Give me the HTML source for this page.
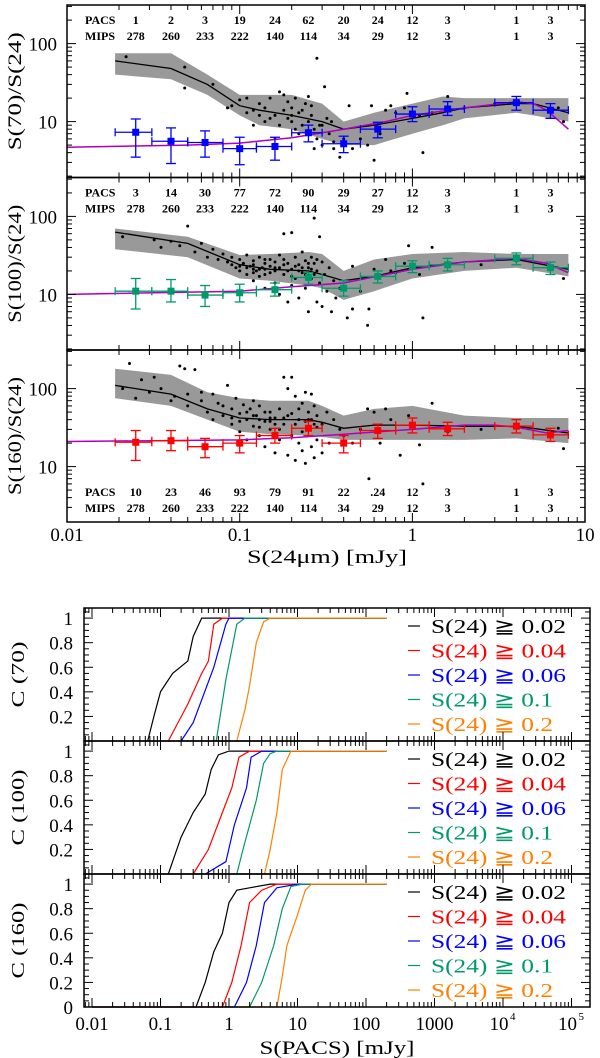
<!DOCTYPE html>
<html><head><meta charset="utf-8">
<style>
html,body{margin:0;padding:0;background:#fff;}
svg{display:block;}
text{font-family:"Liberation Serif","DejaVu Serif",serif;}
</style></head>
<body>
<svg id="fig" width="600" height="1058" viewBox="0 0 600 1058" xmlns="http://www.w3.org/2000/svg"></svg>
<script>
// ---------- TOP FIGURE DATA ----------
const binCenters=[0.025,0.04,0.063,0.1,0.16,0.25,0.4,0.63,1,1.6,4,6.3];
const pacsCounts=[["1","2","3","19","24","62","20","24","12","3","1","3"],["3","14","30","77","72","90","29","27","12","3","1","3"],["10","23","46","93","79","91","22",".24","12","3","1","3"]];
const mipsCounts=["278","260","233","222","140","114","34","29","12","3","1","3"];
const panelTitles=["S(70)/S(24)","S(100)/S(24)","S(160)/S(24)"];
const bandX1=[0.019,0.04,0.065,0.1,0.13,0.2,0.3,0.4,0.6,1,1.5,2,4,5,8];
const bandHi1=[75,75,40,22,22,22,17,10,13,17,21,20,20,20,20];
const bandLo1=[40,35,22,12,9,8,6,5,5,7,9,11,13,12,10];
const med1=[60,48,30,16,14,12,10,8,9,11,13,15,17,17,13];
const bandX2=[0.019,0.05,0.1,0.15,0.25,0.3,0.4,0.6,1,2,4,8];
const bandHi2=[70,55,32,33,35,33,20,28,33,35,33,33];
const bandLo2=[38,30,16,15,13,12,8.5,11,16,20,22,17];
const med2=[63,45,24,21,20,18,15,17,22,26,28,21];
const bandX3=[0.019,0.04,0.065,0.1,0.15,0.25,0.3,0.4,0.6,1,2,4,8];
const bandHi3=[180,150,90,75,70,70,60,45,55,60,45,42,42];
const bandLo3=[75,60,40,28,26,25,24,22,22,22,22,23,20];
const med3=[110,85,55,42,40,40,37,31,34,34,33,33,27];
const modX1=[0.01,0.05,0.1,0.2,0.4,0.7,1,2,4,5,6,8];
const modY1=[4.7,5.0,5.3,6.2,8,10,12,15,18,17,14,8];
const modX2=[0.01,0.1,0.2,0.4,1,2,4,6,8];
const modY2=[10,11,12.5,14,21,26,29,25,19];
const modX3=[0.01,0.1,0.2,0.4,1,2,3,4,6,8];
const modY3=[21,22,23.5,26,30,34,34,32,27,29];
const errY1=[7.3,5.6,5.4,4.5,4.8,7.2,5.2,8,12.5,14.5,17.5,14];
const errLo1=[3.5,2.9,3.5,2.8,3.2,5.5,4,6.2,10,12,14,11];
const errHi1=[10.8,8.3,7.6,6.3,6.3,9,6.5,9.8,15.5,18,21,17];
const errY2=[11,11,9.8,10.5,11.5,16.5,12,17,23,24,29,22];
const errLo2=[6.5,8,7,8,9.5,13.5,9.5,14,19,20,24,18];
const errHi2=[16,15.5,13,13.5,14,19,15,20,27,29,34,26];
const errY3=[20.5,21.5,18,20,25,31,20,29,34,30.5,33,25.5];
const errLo3=[12,16,13,15,20,25,15,23,27,25,27,21];
const errHi3=[29,29,23,25,31,38,25,35,42,37,40,31];
const binLo=[0.019,0.031,0.05,0.08,0.125,0.2,0.3,0.5,0.8,1.25,3,5];
const binHi=[0.031,0.05,0.08,0.125,0.2,0.3,0.5,0.8,1.25,2,5,8];
const dots1=[[0.022,68],[0.048,50],[0.048,27],[0.07,30],[0.085,15],[0.09,16],[0.1,19],[0.11,20],[0.12,14],[0.13,17],[0.14,15],[0.15,11],[0.15,20],[0.17,24],[0.18,22],[0.19,18],[0.2,15],[0.2,10],[0.21,20],[0.22,13],[0.23,9],[0.24,17],[0.25,21],[0.26,12],[0.27,8],[0.28,65],[0.28,6],[0.3,5],[0.31,28],[0.32,11],[0.33,7],[0.35,4.5],[0.38,3.5],[0.4,6],[0.43,16],[0.45,4.5],[0.5,6],[0.55,5],[0.58,16],[0.6,3.2],[0.65,7],[0.7,14],[0.75,16],[0.8,13],[0.9,15],[0.93,23],[1.1,12],[1.15,4],[1.3,13],[1.6,21],[2,15],[3,17],[7,15],[7.5,10],[0.16,6],[0.12,9],[0.22,7],[0.18,14],[0.2,12],[0.25,10],[0.16,12],[0.13,12],[0.29,9],[0.35,5.5],[0.27,4.5],[0.11,13],[0.14,10],[0.17,9],[0.19,11],[0.23,14],[0.26,16],[0.3,9],[0.34,10],[0.21,8]];
const dots2=[[0.021,55],[0.032,50],[0.035,40],[0.04,48],[0.045,42],[0.05,75],[0.055,35],[0.06,45],[0.065,30],[0.07,38],[0.075,28],[0.08,33],[0.085,26],[0.09,30],[0.095,22],[0.1,28],[0.1,20],[0.105,25],[0.11,32],[0.11,18],[0.115,23],[0.12,27],[0.12,15],[0.125,20],[0.13,30],[0.13,17],[0.135,22],[0.14,25],[0.14,12],[0.15,19],[0.15,28],[0.16,22],[0.16,14],[0.17,32],[0.17,10],[0.18,60],[0.18,18],[0.19,25],[0.19,8],[0.2,62],[0.2,21],[0.2,13],[0.21,30],[0.21,16],[0.22,24],[0.22,9],[0.23,35],[0.23,19],[0.24,27],[0.24,12],[0.25,22],[0.25,6],[0.26,30],[0.26,16],[0.27,95],[0.27,25],[0.28,20],[0.28,8],[0.29,55],[0.29,14],[0.3,26],[0.3,7],[0.31,18],[0.32,11],[0.33,22],[0.34,6],[0.35,15],[0.36,9],[0.38,12],[0.42,5],[0.45,6.5],[0.45,23],[0.5,11],[0.55,4],[0.56,6.5],[0.6,21],[0.65,17],[0.7,28],[0.75,20],[0.8,19],[0.9,25],[0.95,42],[1.1,18],[1.15,5],[1.3,40],[1.6,25],[2.5,24],[4,27],[7.5,16],[0.12,24],[0.14,18],[0.16,20],[0.18,24],[0.22,20],[0.24,18],[0.26,21],[0.15,23],[0.13,21],[0.11,22],[0.09,24],[0.1,23],[0.12,21],[0.14,21],[0.17,22],[0.19,20],[0.21,23],[0.23,22],[0.25,25],[0.27,18],[0.28,28],[0.2,17],[0.18,28],[0.16,26],[0.14,28],[0.12,19]];
const dots3=[[0.021,100],[0.023,210],[0.025,75],[0.027,130],[0.03,90],[0.032,140],[0.035,100],[0.04,70],[0.042,80],[0.045,195],[0.048,180],[0.05,60],[0.055,175],[0.06,70],[0.065,50],[0.07,85],[0.07,40],[0.075,65],[0.08,45],[0.085,110],[0.09,55],[0.09,35],[0.095,75],[0.1,48],[0.1,28],[0.105,62],[0.11,40],[0.11,22],[0.115,55],[0.12,33],[0.12,70],[0.125,45],[0.13,25],[0.13,60],[0.14,38],[0.14,18],[0.15,50],[0.15,30],[0.16,42],[0.16,15],[0.17,55],[0.17,22],[0.18,140],[0.18,35],[0.19,100],[0.19,14],[0.2,140],[0.2,48],[0.2,25],[0.21,80],[0.21,12],[0.22,40],[0.22,20],[0.23,65],[0.23,16],[0.24,90],[0.24,11],[0.25,50],[0.25,30],[0.26,85],[0.26,18],[0.27,60],[0.27,13],[0.28,45],[0.28,22],[0.3,35],[0.3,15],[0.32,50],[0.33,20],[0.35,40],[0.38,30],[0.4,25],[0.45,20],[0.5,30],[0.55,55],[0.56,7],[0.6,50],[0.65,20],[0.7,55],[0.75,40],[0.85,14],[0.95,45],[1.1,19],[1.15,6],[1.3,65],[1.6,28],[2.5,30],[7.5,17],[7,31],[0.12,45],[0.14,50],[0.16,35],[0.18,42],[0.22,55],[0.24,38],[0.26,40],[0.28,32],[0.15,38],[0.13,40],[0.1,38],[0.11,50],[0.13,32],[0.15,42],[0.17,30],[0.19,45],[0.21,35],[0.23,28],[0.25,40],[0.27,35],[0.09,42],[0.08,60],[0.06,90],[0.05,85]];

// ---------- BOTTOM FIGURE DATA ----------
const cdfLabels=["S(24)  \u2267  0.02","S(24)  \u2267  0.04","S(24)  \u2267  0.06","S(24)  \u2267  0.1","S(24)  \u2267  0.2"];
const cdfColors=["#000000","#ff0000","#0000ff","#009a6a","#ff8000"];
const cdfYTitles=["C (70)","C (100)","C (160)"];
const cdf70X=[[0.065,0.08,0.1,0.15,0.25,0.3,0.4,200],[0.13,0.25,0.4,0.5,0.6,0.8,200],[0.2,0.3,0.6,0.9,1,200],[0.65,0.9,1.3,1.7,200],[1.3,1.7,2.0,2.5,3.2,4,200]];
const cdf70Y=[[0,0.2,0.4,0.55,0.65,0.85,1,1],[0,0.3,0.55,0.65,0.95,1,1],[0,0.15,0.6,0.95,1,1],[0,0.5,0.95,1,1],[0,0.25,0.45,0.8,0.97,1,1]];
const cdf100X=[[0.13,0.2,0.3,0.45,0.55,0.7,1,200],[0.3,0.5,0.8,1.1,1.4,2,200],[0.45,0.9,1.2,1.8,2.1,3,200],[1.3,1.6,2.5,3.2,4,5,200],[3.3,4,5,6,8,200]];
const cdf100Y=[[0,0.3,0.5,0.65,0.85,0.97,1,1],[0,0.2,0.5,0.7,0.95,1,1],[0,0.1,0.4,0.7,0.95,1,1],[0,0.2,0.6,0.9,0.98,1,1],[0,0.2,0.5,0.85,1,1]];
const cdf160X=[[0.01,0.33,0.45,0.6,0.8,1.0,1.3,2,4,200],[0.01,0.8,1.1,1.5,2,3,5,200],[0.01,1.2,1.8,2.5,3.3,5,10,200],[0.01,2,3,4.5,6,8,12,200],[0.01,5,6,7,10,13,16,200]];
const cdf160Y=[[0,0,0.2,0.45,0.6,0.85,0.95,0.97,1,1],[0,0,0.2,0.5,0.85,0.95,1,1],[0,0,0.2,0.5,0.85,0.97,1,1],[0,0,0.2,0.5,0.8,0.98,1,1],[0,0,0.25,0.5,0.75,0.95,1,1]];

// ---------- helpers ----------
const NS="http://www.w3.org/2000/svg";
const svg=document.getElementById('fig');
function mk(tag,attrs,parent){const e=document.createElementNS(NS,tag);for(const k in attrs)e.setAttribute(k,attrs[k]);(parent||svg).appendChild(e);return e;}
const L=Math.log10;
const TX0=67,TX1=585,TXD=172.7;
function X1(v){return TX0+TXD*(L(v)-L(0.01));}
const y100s=[43.6,216.4,388.6], pTop=[5,177.5,350], pBot=[177.5,350,522];
function Y1(p,v){return y100s[p]+78*(2-L(v));}
const BX0=84,BX1=590;
function XB(v){return 229+68.5*L(v);}
const bBot=[741,874,1007], bTop=[608,741,874];
function YB(p,c){return bBot[p]-122.9*c;}

const bandsX=[bandX1,bandX2,bandX3],bandsHi=[bandHi1,bandHi2,bandHi3],bandsLo=[bandLo1,bandLo2,bandLo3],meds=[med1,med2,med3];
const modsX=[modX1,modX2,modX3],modsY=[modY1,modY2,modY3];
const errYs=[errY1,errY2,errY3],errLos=[errLo1,errLo2,errLo3],errHis=[errHi1,errHi2,errHi3];
const dotsAll=[dots1,dots2,dots3];
const errColors=["#0000ff","#009a6a","#ff0000"];
const seriesNames=["70","100","160"];

for(let p=0;p<3;p++){
  const g=mk('g',{});
  
  
  const clip=mk('clipPath',{id:'c'+p},g);
  mk('rect',{x:TX0,y:pTop[p],width:TX1-TX0,height:pBot[p]-pTop[p]},clip);
  const pg=mk('g',{'clip-path':'url(#c'+p+')'},g);
  const bx=bandsX[p],bh=bandsHi[p],bl=bandsLo[p];
  let d='';
  for(let i=0;i<bx.length;i++)d+=(i?'L':'M')+X1(bx[i]).toFixed(1)+','+Y1(p,bh[i]).toFixed(1);
  for(let i=bx.length-1;i>=0;i--)d+='L'+X1(bx[i]).toFixed(1)+','+Y1(p,bl[i]).toFixed(1);
  const band=mk('path',{d:d+'Z',fill:'#999999'},pg);
  
  
  const dg=mk('g',{fill:'#000'},pg);
  
  
  for(const pt of dotsAll[p]) mk('circle',{cx:X1(pt[0]).toFixed(1),cy:Y1(p,pt[1]).toFixed(1),r:1.5},dg);
  let md='';for(let i=0;i<bx.length;i++)md+=(i?'L':'M')+X1(bx[i]).toFixed(1)+','+Y1(p,meds[p][i]).toFixed(1);
  const ml=mk('path',{d:md,fill:'none',stroke:'#000','stroke-width':1.3},pg);
  
  
  let mdd='';for(let i=0;i<modsX[p].length;i++)mdd+=(i?'L':'M')+X1(modsX[p][i]).toFixed(1)+','+Y1(p,modsY[p][i]).toFixed(1);
  const mod=mk('path',{d:mdd,fill:'none',stroke:'#b000c0','stroke-width':1.5},pg);
  
  
  const eg=mk('g',{stroke:errColors[p],'stroke-width':1.3,fill:errColors[p]},pg);
  
  
  for(let i=0;i<binCenters.length;i++){
    const cx=X1(binCenters[i]),cy=Y1(p,errYs[p][i]);
    const x0=X1(binLo[i]),x1=X1(binHi[i]),y0=Y1(p,errLos[p][i]),y1=Y1(p,errHis[p][i]);
    mk('line',{x1:x0,y1:cy,x2:x1,y2:cy},eg);
    mk('line',{x1:x0,y1:cy-4,x2:x0,y2:cy+4},eg);
    mk('line',{x1:x1,y1:cy-4,x2:x1,y2:cy+4},eg);
    mk('line',{x1:cx,y1:y0,x2:cx,y2:y1},eg);
    mk('line',{x1:cx-5,y1:y0,x2:cx+5,y2:y0},eg);
    mk('line',{x1:cx-5,y1:y1,x2:cx+5,y2:y1},eg);
    mk('rect',{x:cx-3.5,y:cy-3.5,width:7,height:7,stroke:'none'},eg);
  }
  mk('rect',{x:TX0,y:pTop[p],width:TX1-TX0,height:pBot[p]-pTop[p],fill:'none',stroke:'#000','stroke-width':1.5},g);
  const tk=mk('g',{stroke:'#000','stroke-width':1},g);
  for(let e=-2;e<1;e++)for(let m=1;m<10;m++){
    const v=m*Math.pow(10,e);const x=X1(v);const len=m===1?9:5;
    mk('line',{x1:x,y1:pTop[p],x2:x,y2:pTop[p]+len},tk);
    mk('line',{x1:x,y1:pBot[p],x2:x,y2:pBot[p]-len},tk);
  }
  for(let e=0;e<3;e++)for(let m=1;m<10;m++){
    const v=m*Math.pow(10,e);const y=Y1(p,v);if(y<pTop[p]+1||y>pBot[p]-1)continue;const len=m===1?9:5;
    mk('line',{x1:TX0,y1:y,x2:TX0+len,y2:y},tk);
    mk('line',{x1:TX1,y1:y,x2:TX1-len,y2:y},tk);
  }
  for(const v of [10,100]){
    const t=mk('text',{x:57,y:Y1(p,v)+7,'font-size':19,'text-anchor':'end'},g);t.textContent=String(v);
    
    
  }
  const yt=mk('text',{x:0,y:0,'font-size':19,'text-anchor':'middle',textLength:118,lengthAdjust:'spacingAndGlyphs',transform:'translate(21,'+((pTop[p]+pBot[p])/2)+') rotate(-90)'},g);
  yt.textContent=panelTitles[p];
  
  
  const rowY = p<2 ? [pTop[p]+19, pTop[p]+35] : [496, 512];
  const cg=mk('g',{'font-size':12,'font-weight':'bold','text-anchor':'middle'},g);
  
  
  let t1=mk('text',{x:85,y:rowY[0],'text-anchor':'start'},cg);t1.textContent='PACS';
  let t2=mk('text',{x:85,y:rowY[1],'text-anchor':'start'},cg);t2.textContent='MIPS';
  for(let i=0;i<binCenters.length;i++){
    const a=mk('text',{x:X1(binCenters[i]),y:rowY[0]},cg);a.textContent=pacsCounts[p][i];
    const b=mk('text',{x:X1(binCenters[i]),y:rowY[1]},cg);b.textContent=mipsCounts[i];
  }
}
const topXTicks=[0.01,0.1,1,10];
const topXLabels=["0.01","0.1","1","10"];
for(let i=0;i<topXTicks.length;i++){
  const t=mk('text',{x:X1(topXTicks[i]),y:541,'font-size':19,'text-anchor':'middle'});
  t.textContent=topXLabels[i];
  
  
}
{const t=mk('text',{x:327,y:563,'font-size':19,'text-anchor':'middle',textLength:160,lengthAdjust:'spacingAndGlyphs'});t.textContent='S(24\u03bcm) [mJy]';

}

// ---------- bottom figure ----------
const cdfX=[cdf70X,cdf100X,cdf160X],cdfY=[cdf70Y,cdf100Y,cdf160Y];
const bYTicks=[0.2,0.4,0.6,0.8,1];
const bYLabels=["0.2","0.4","0.6","0.8","1"];
const legendLen=[135,135,135,122,122];
for(let p=0;p<3;p++){
  const g=mk('g',{});
  
  
  for(let s=0;s<5;s++){
    let d='';
    for(let i=0;i<cdfX[p][s].length;i++)d+=(i?'L':'M')+XB(cdfX[p][s][i]).toFixed(1)+','+YB(p,cdfY[p][s][i]).toFixed(1);
    const c=mk('path',{d:d,fill:'none',stroke:cdfColors[s],'stroke-width':1.2},g);
    
    
    const ly=bTop[p]+25+s*24.5;
    const lg=mk('g',{},g);
    
    
    mk('line',{x1:408,y1:ly-7,x2:420,y2:ly-7,stroke:cdfColors[s],'stroke-width':1.2},lg);
    const t=mk('text',{x:431,y:ly,'font-size':20,fill:cdfColors[s],textLength:legendLen[s],lengthAdjust:'spacingAndGlyphs'},lg);t.textContent=cdfLabels[s];
  }
  mk('rect',{x:BX0,y:bTop[p],width:BX1-BX0,height:bBot[p]-bTop[p],fill:'none',stroke:'#000','stroke-width':1.5},g);
  const tk=mk('g',{stroke:'#000','stroke-width':1},g);
  for(let e=-3;e<6;e++)for(let m=1;m<10;m++){
    const x=XB(m*Math.pow(10,e));if(x<BX0+1||x>BX1-1)continue;const len=m===1?9:5;
    mk('line',{x1:x,y1:bTop[p],x2:x,y2:bTop[p]+len},tk);
    mk('line',{x1:x,y1:bBot[p],x2:x,y2:bBot[p]-len},tk);
  }
  for(let k=1;k<=21;k++){
    const c=k*0.05;const y=YB(p,c);if(y<bTop[p]+1)continue;const len=(k%4===0)?9:5;
    mk('line',{x1:BX0,y1:y,x2:BX0+len,y2:y},tk);
    mk('line',{x1:BX1,y1:y,x2:BX1-len,y2:y},tk);
  }
  const labs=p===2?[0].concat(bYTicks):bYTicks;
  for(const v of labs){
    const t=mk('text',{x:73,y:YB(p,v)+7,'font-size':19,'text-anchor':'end'},g);t.textContent=v===0?'0':bYLabels[bYTicks.indexOf(v)];
    
    
  }
  const yt=mk('text',{x:0,y:0,'font-size':18,'text-anchor':'middle',textLength:p===0?66:76,lengthAdjust:'spacingAndGlyphs',transform:'translate(24,'+((bTop[p]+bBot[p])/2)+') rotate(-90)'},g);
  yt.textContent=cdfYTitles[p];
  
  
}
const bXTicks=[0.01,0.1,1,10,100,1000];
const bXLabels=["0.01","0.1","1","10","100","1000"];
for(let i=0;i<bXTicks.length;i++){
  const t=mk('text',{x:XB(bXTicks[i]),y:1030,'font-size':19,'text-anchor':'middle'});t.textContent=bXLabels[i];
  
  
}
for(const e of [4,5]){
  const t=mk('text',{x:XB(Math.pow(10,e))-4,y:1030,'font-size':19,'text-anchor':'middle'});t.textContent='10';
  
  
  const s=mk('text',{x:XB(Math.pow(10,e))+7,y:1020,'font-size':11});s.textContent=String(e);
  
  
}
{const t=mk('text',{x:337,y:1054,'font-size':19,'text-anchor':'middle',textLength:155,lengthAdjust:'spacingAndGlyphs'});t.textContent='S(PACS) [mJy]';

}
</script>
</body></html>
